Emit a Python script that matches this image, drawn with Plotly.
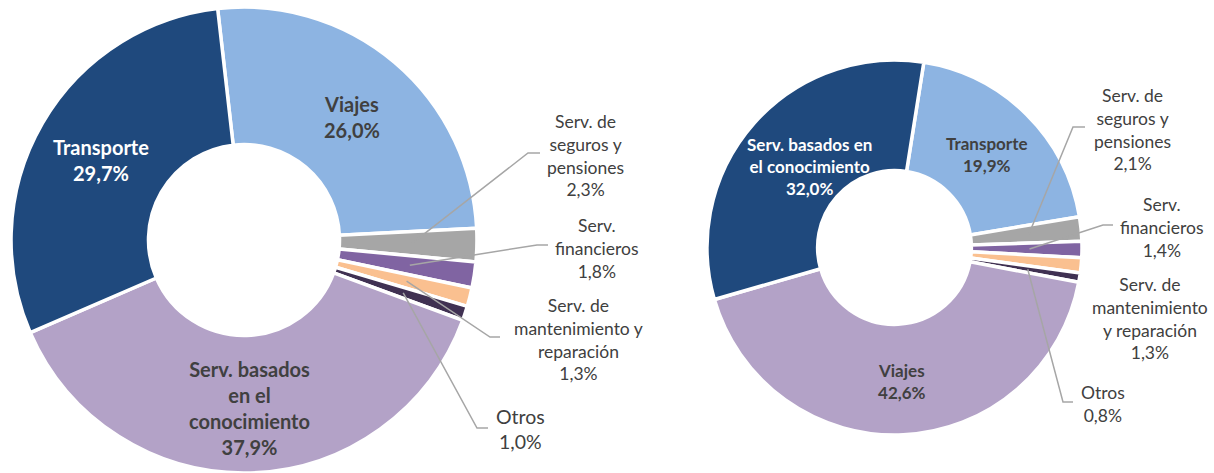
import math
import plotly.graph_objects as go

W, H = 1214, 473

# ---------------- data ----------------
left_labels = ["Viajes", "Serv. de seguros y pensiones", "Serv. financieros",
               "Serv. de mantenimiento y reparación", "Otros",
               "Serv. basados en el conocimiento", "Transporte"]
left_values = [26.0, 2.3, 1.8, 1.3, 1.0, 37.9, 29.7]

right_labels = ["Transporte", "Serv. de seguros y pensiones", "Serv. financieros",
                "Serv. de mantenimiento y reparación", "Otros",
                "Viajes", "Serv. basados en el conocimiento"]
right_values = [19.9, 2.1, 1.4, 1.3, 0.8, 42.6, 32.0]

# label text with manual line breaks (same order as values)
left_text = ["Viajes", "Serv. de<br>seguros y<br>pensiones", "Serv.<br>financieros",
             "Serv. de<br>mantenimiento y<br>reparación", "Otros",
             "Serv. basados<br>en el<br>conocimiento", "Transporte"]
right_text = ["Transporte", "Serv. de<br>seguros y<br>pensiones", "Serv.<br>financieros",
              "Serv. de<br>mantenimiento<br>y reparación", "Otros",
              "Viajes", "Serv. basados en<br>el conocimiento"]

# ---------------- style ----------------
slice_colors = ["#8DB4E2", "#A6A6A6", "#8064A2", "#FAC090", "#403152", "#B3A2C7", "#1F497D"]
right_colors = ["#8DB4E2", "#A6A6A6", "#8064A2", "#FAC090", "#403152", "#B3A2C7", "#1F497D"]
TXT = "#404040"
FONT = "Lato"

left_dom = dict(x=[11 / W, 477 / W], y=[0.0, 0.985])
right_dom = dict(x=[707 / W, 1082 / W], y=[1 - 435 / H, 1 - 60 / H])
left_rot = -6.5
right_rot = 9.0
HOLE = 0.41

# label layout (pixel centres), index -> (x, y, bold, size, color)
left_lab_pos = {0: (352, 117, True, 20, TXT), 6: (101, 160, True, 20, "white"),
                5: (249, 408, True, 20, TXT),
                1: (585, 156, False, 17.5, TXT), 2: (597, 248, False, 17.5, TXT),
                3: (578, 339, False, 17.5, TXT), 4: (520, 429, False, 19.5, TXT)}
right_lab_pos = {6: (809, 166, True, 17, "white"), 0: (987, 154, True, 17, TXT),
                 5: (902, 381, True, 17, TXT),
                 1: (1132, 129, False, 17.5, TXT), 2: (1162, 227, False, 17.5, TXT),
                 3: (1150, 318, False, 17.5, TXT), 4: (1103, 404, False, 17.5, TXT)}
# leader line elbows / ends (pixels) for outside labels
left_lead = {1: [(528, 153), (540, 153)], 2: [(537, 245), (548, 245)],
             3: [(490, 337), (500, 337)], 4: [(477, 428), (488, 428)]}
right_lead = {1: [(1073, 127), (1085, 127)], 2: [(1103, 225), (1113, 225)],
              4: [(1063, 402), (1073, 402)]}


def fmt(v):
    return f"{v:.1f}".replace(".", ",") + "%"


def pie_geom(dom):
    x0, x1 = dom["x"][0] * W, dom["x"][1] * W
    y0, y1 = (1 - dom["y"][1]) * H, (1 - dom["y"][0]) * H
    r = min(x1 - x0, y1 - y0) / 2
    return (x0 + x1) / 2, (y0 + y1) / 2, r


def px(x):
    return x / W


def py(y):
    return 1 - y / H


fig = go.Figure()
for vals, labs, cols, dom, rot in [(left_values, left_labels, slice_colors, left_dom, left_rot),
                                    (right_values, right_labels, right_colors, right_dom, right_rot)]:
    fig.add_trace(go.Pie(values=vals, labels=labs, sort=False, direction="clockwise",
                         rotation=rot, hole=HOLE, domain=dom, textinfo="none",
                         hoverinfo="label+value",
                         marker=dict(colors=cols, line=dict(color="white", width=3.5)),
                         showlegend=False))

annotations = []
shapes = []
for vals, texts, pos, lead, dom, rot in [
        (left_values, left_text, left_lab_pos, left_lead, left_dom, left_rot),
        (right_values, right_text, right_lab_pos, right_lead, right_dom, right_rot)]:
    cx, cy, R = pie_geom(dom)
    total = sum(vals)
    cum = 0.0
    for i, v in enumerate(vals):
        mid = (cum + v / 2) / total * 360 + rot
        cum += v
        if i in pos:
            x, y, bold, size, col = pos[i]
            t = texts[i] + "<br>" + fmt(v)
            if bold:
                t = "<b>" + t + "</b>"
            annotations.append(dict(x=px(x), y=py(y), xref="paper", yref="paper",
                                    text=t, showarrow=False, xanchor="center",
                                    yanchor="middle", align="center",
                                    font=dict(family=FONT, size=size, color=col)))
        if i in lead:
            a = math.radians(mid)
            sx = cx + 0.72 * R * math.sin(a)
            sy = cy - 0.72 * R * math.cos(a)
            pts = [(sx, sy)] + lead[i]
            path = "M " + " L ".join(f"{px(p[0])},{py(p[1])}" for p in pts)
            shapes.append(dict(type="path", path=path, xref="paper", yref="paper",
                               line=dict(color="#A6A6A6", width=1.5)))

fig.update_layout(width=W, height=H, margin=dict(l=0, r=0, t=0, b=0),
                  paper_bgcolor="white", plot_bgcolor="white",
                  annotations=annotations, shapes=shapes,
                  font=dict(family=FONT, color=TXT))
fig.write_html("out.html", config={"displayModeBar": False},
               post_script="document.body.style.margin='0';document.body.style.padding='0';"
                           "document.body.style.overflow='hidden';")
